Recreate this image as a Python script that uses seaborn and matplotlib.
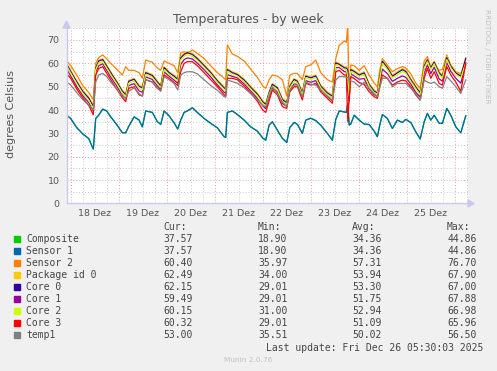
import matplotlib
matplotlib.use("Agg")
import matplotlib.pyplot as plt
import seaborn as sns
import pandas as pd
import numpy as np

# ---------------- data (hours since 18 Dez 00:00) ----------------
hours = [-2, 0, 3, 6, 9, 11.3, 12.5, 14, 16, 18,
         20, 23, 25.8, 27.5, 29, 31.7, 34.2, 35.8, 37.5, 40.8,
         43.3, 45, 46.7, 49.2, 51.7, 53.5, 55, 56.7, 58.3, 60.8,
         63.3, 66.7, 70, 73.3, 76.7, 77.5, 78.3, 80.8, 83.3, 86.7,
         90, 93.3, 96, 97.5, 99.2, 100.8, 103.3, 105.8, 108, 109.5,
         111.7, 113.3, 115.8, 117.5, 120, 122.5, 125, 128.3, 130.8, 132.5,
         134.2, 136.7, 137.8, 138.5, 139.2, 140, 141.7, 144.2, 146.7, 149.2,
         151.7, 153.3, 154.5, 155.8, 158.3, 160.8, 163.3, 165.8, 167.5, 170,
         172.5, 174.7, 176.7, 178.3, 180, 181.7, 184.2, 185.8, 188, 190,
         192.5, 195, 197.5]

composite = [37.8, 36.4, 32.5, 29.8, 27.8, 23.3, 36.4, 37.8, 40.4, 39.6,
             37.1, 33.8, 30.3, 30.3, 33.0, 37.1, 35.7, 32.8, 39.6, 39.0,
             35.0, 33.9, 39.6, 37.5, 34.5, 31.9, 35.7, 39.0, 39.6, 41.0,
             39.0, 36.4, 34.3, 32.4, 28.6, 28.3, 39.0, 39.6, 38.1, 35.7,
             32.8, 31.0, 28.0, 27.1, 33.6, 35.0, 31.4, 27.9, 26.1, 32.5,
             34.7, 33.9, 30.0, 35.7, 36.5, 35.5, 33.5, 30.0, 27.1, 36.0,
             39.6, 39.2, 39.0, 42.9, 33.6, 34.0, 37.8, 35.7, 34.0, 33.8,
             31.0, 28.6, 33.6, 38.1, 36.4, 32.1, 35.7, 34.7, 36.0, 34.7,
             30.7, 27.6, 35.0, 38.6, 35.7, 37.8, 34.3, 34.3, 40.7, 37.8,
             32.8, 30.3, 37.6]
sensor1 = list(composite)

sensor2 = [61.0, 59.0, 55.0, 50.5, 47.5, 44.5, 60.0, 62.5, 63.6, 62.0,
           60.0, 57.5, 55.0, 58.6, 57.0, 57.0, 56.0, 53.6, 61.4, 60.5,
           58.0, 57.0, 61.0, 60.0, 59.0, 56.0, 64.5, 65.0, 64.3, 65.7,
           64.3, 62.0, 59.0, 56.0, 53.6, 53.0, 67.9, 64.0, 63.0, 61.0,
           57.5, 54.0, 50.3, 49.3, 53.0, 55.0, 54.5, 53.0, 46.0, 55.0,
           55.7, 55.7, 53.0, 58.6, 59.3, 61.4, 56.0, 53.0, 52.0, 62.0,
           67.6, 69.6, 69.0, 76.7, 43.0, 59.3, 59.0, 57.0, 59.0, 55.0,
           51.5, 50.0, 57.0, 62.0, 59.3, 56.4, 57.8, 58.6, 58.0, 55.5,
           51.5, 49.3, 61.0, 62.9, 58.6, 59.3, 57.0, 57.5, 63.6, 59.3,
           56.4, 55.7, 60.4]

package0 = [60.0, 57.0, 52.5, 48.5, 45.5, 42.0, 58.6, 61.4, 62.0, 59.3,
            56.4, 52.5, 48.5, 47.0, 52.8, 53.6, 50.7, 50.0, 56.4, 55.3,
            52.5, 50.7, 58.6, 56.4, 55.0, 53.6, 62.9, 64.3, 65.0, 64.3,
            62.5, 59.5, 56.5, 53.0, 50.0, 49.5, 57.8, 56.4, 55.7, 53.3,
            50.2, 47.3, 44.0, 42.9, 48.0, 51.4, 50.0, 45.0, 43.6, 50.7,
            53.6, 52.8, 47.8, 55.0, 54.3, 55.0, 50.7, 47.8, 46.4, 60.7,
            60.0, 58.6, 58.5, 58.0, 50.0, 57.8, 57.0, 55.5, 56.4, 51.4,
            48.6, 47.8, 55.0, 61.4, 58.6, 55.0, 56.4, 57.8, 57.0, 53.5,
            50.3, 47.8, 59.3, 62.0, 58.6, 61.0, 56.4, 55.0, 62.9, 59.3,
            56.4, 55.0, 62.5]

core0 = [59.6, 56.5, 52.1, 48.0, 45.1, 41.5, 58.0, 61.0, 61.6, 58.8,
         56.0, 52.0, 48.1, 46.5, 52.3, 53.2, 50.2, 49.5, 56.0, 54.8,
         52.0, 50.3, 58.2, 56.0, 54.5, 53.1, 62.3, 63.8, 64.6, 63.8,
         62.0, 59.0, 56.0, 52.5, 49.5, 49.0, 57.3, 56.0, 55.2, 52.8,
         49.7, 46.8, 43.5, 42.4, 47.5, 51.0, 49.5, 44.5, 43.1, 50.2,
         53.1, 52.3, 47.3, 54.5, 53.8, 54.6, 50.2, 47.3, 45.9, 60.2,
         59.6, 58.1, 58.0, 57.0, 47.0, 57.3, 56.5, 55.0, 55.9, 50.9,
         48.1, 47.3, 54.5, 60.9, 58.1, 54.5, 55.9, 57.3, 56.5, 53.0,
         49.8, 47.3, 58.8, 61.5, 58.1, 60.5, 55.9, 54.5, 62.4, 58.8,
         55.9, 54.5, 62.2]

core1 = [57.5, 54.6, 50.1, 46.2, 43.2, 39.5, 56.3, 59.0, 59.8, 57.0,
         54.2, 50.3, 46.4, 44.8, 50.5, 51.3, 48.2, 47.6, 54.2, 53.1,
         50.4, 48.9, 56.3, 54.5, 52.8, 51.5, 59.5, 61.6, 62.3, 61.9,
         60.1, 57.2, 54.2, 50.8, 47.6, 47.2, 55.2, 54.4, 53.8, 51.2,
         48.2, 45.0, 41.8, 40.6, 45.5, 49.4, 47.8, 42.8, 41.6, 48.8,
         51.2, 51.0, 45.5, 52.6, 51.9, 52.6, 48.7, 45.8, 44.0, 58.2,
         58.2, 56.5, 56.3, 48.0, 44.0, 55.6, 54.6, 53.2, 53.5, 49.0,
         46.6, 45.8, 51.5, 57.5, 55.6, 52.3, 53.6, 54.6, 54.0, 51.2,
         47.6, 45.6, 55.8, 59.3, 55.6, 58.3, 53.3, 52.4, 60.3, 56.6,
         53.6, 51.5, 59.5]

core2 = [58.8, 55.8, 51.3, 47.2, 44.2, 40.6, 57.3, 60.2, 60.8, 58.0,
         55.2, 51.3, 47.3, 45.8, 51.5, 52.4, 49.4, 48.8, 55.2, 54.0,
         51.3, 49.5, 57.4, 55.2, 53.8, 52.4, 61.5, 63.0, 63.7, 63.0,
         61.2, 58.3, 55.3, 51.8, 48.8, 48.2, 56.6, 55.2, 54.5, 52.1,
         49.0, 46.1, 42.8, 41.7, 46.8, 50.2, 48.8, 43.8, 42.4, 49.5,
         52.4, 51.6, 46.6, 53.8, 53.1, 53.8, 49.5, 46.6, 45.2, 59.4,
         58.8, 57.4, 57.3, 54.0, 46.0, 56.6, 55.8, 54.3, 55.1, 50.2,
         47.4, 46.6, 53.5, 60.0, 57.3, 53.8, 55.1, 56.5, 55.8, 52.3,
         49.1, 46.6, 58.0, 60.8, 57.3, 59.8, 55.1, 53.8, 61.6, 58.1,
         55.1, 53.8, 60.2]

core3 = [55.5, 53.6, 49.0, 45.2, 42.0, 38.0, 55.0, 57.8, 58.6, 55.7,
         53.0, 49.0, 45.3, 43.6, 49.3, 50.0, 46.5, 46.0, 53.0, 52.0,
         49.3, 48.5, 55.0, 53.6, 51.8, 50.5, 56.4, 60.0, 60.7, 60.7,
         59.0, 56.0, 53.0, 50.0, 46.5, 46.0, 53.6, 53.6, 53.0, 50.3,
         47.3, 43.8, 40.0, 39.0, 44.0, 48.6, 46.5, 41.5, 40.7, 47.8,
         50.0, 50.0, 44.3, 51.4, 50.7, 51.4, 47.8, 45.0, 42.9, 56.4,
         57.0, 55.0, 55.0, 35.0, 45.0, 54.3, 53.5, 51.8, 51.0, 47.8,
         45.7, 45.0, 50.0, 55.0, 53.6, 50.7, 52.0, 52.8, 52.5, 50.0,
         46.5, 44.3, 53.6, 57.8, 53.6, 56.4, 51.4, 50.7, 58.6, 55.0,
         52.0, 48.0, 60.3]

temp1 = [52.0, 50.7, 47.5, 44.5, 42.0, 40.0, 52.0, 55.0, 55.7, 54.3,
         52.0, 49.0, 46.0, 45.0, 48.0, 49.5, 47.0, 46.0, 53.0, 52.0,
         49.5, 48.0, 54.3, 53.0, 51.4, 48.6, 55.0, 56.0, 56.4, 56.4,
         55.5, 53.0, 50.5, 48.5, 45.7, 45.5, 52.8, 52.2, 51.5, 49.5,
         47.0, 44.5, 42.0, 41.4, 46.0, 50.0, 47.0, 43.5, 41.4, 48.6,
         50.7, 50.7, 45.7, 52.0, 51.0, 50.7, 48.6, 46.0, 44.3, 52.8,
         54.3, 54.3, 54.0, 54.0, 53.0, 52.5, 52.0, 50.0, 52.0, 49.3,
         47.0, 45.7, 50.0, 53.6, 53.6, 50.0, 51.4, 51.4, 51.4, 49.3,
         47.0, 44.3, 52.8, 52.0, 51.4, 52.0, 50.0, 49.3, 54.3, 52.5,
         50.0, 47.1, 53.0]

series_names = ["Composite", "Sensor 1", "Sensor 2", "Package id 0",
                "Core 0", "Core 1", "Core 2", "Core 3", "temp1"]
series_values = [composite, sensor1, sensor2, package0,
                 core0, core1, core2, core3, temp1]
series_colors = ["#00cc00", "#0066b3", "#ff8000", "#ffcc00",
                 "#330099", "#990099", "#ccff00", "#ff0000", "#808080"]

cur_vals = ["37.57", "37.57", "60.40", "62.49", "62.15", "59.49", "60.15", "60.32", "53.00"]
min_vals = ["18.90", "18.90", "35.97", "34.00", "29.01", "29.01", "31.00", "29.01", "35.51"]
avg_vals = ["34.36", "34.36", "57.31", "53.94", "53.30", "51.75", "52.94", "51.09", "50.02"]
max_vals = ["44.86", "44.86", "76.70", "67.90", "67.00", "67.88", "66.98", "65.96", "56.50"]

day_labels = ["18 Dez", "19 Dez", "20 Dez", "21 Dez", "22 Dez", "23 Dez", "24 Dez", "25 Dez"]
y_ticks = [0, 10, 20, 30, 40, 50, 60, 70]

# ---------------- build frame ----------------
rows = []
for name, vals in zip(series_names, series_values):
    for t, v in zip(hours, vals):
        rows.append({"hours": t, "value": v, "series": name})
df = pd.DataFrame(rows)

# ---------------- figure ----------------
sns.set_style("white")
plt.rcParams["font.family"] = ["DejaVu Sans"]
W, H = 497, 371
fig = plt.figure(figsize=(W / 100, H / 100), dpi=100, facecolor="#f0f0f0")

def fx(px):
    return px / W

def fy(py):
    return 1 - py / H

ax_l, ax_r, ax_t, ax_b = 66.5, 468, 28.3, 203.5
ax = fig.add_axes([fx(ax_l), fy(ax_b), fx(ax_r - ax_l), (ax_b - ax_t) / H])
ax.set_facecolor("white")

xmin, xmax = -2.1, 198.6
ymin, ymax = 0, 75

# grid
for y in np.arange(5, 76, 10):
    ax.axhline(y, color="#c8c8c8", lw=0.7, ls=(0, (1, 2)), zorder=0)
for y in np.arange(10, 71, 10):
    ax.axhline(y, color="#f09c9c", lw=0.7, ls=(0, (1, 2)), zorder=0.5)
for x in np.arange(-6 + 12, 199, 6):
    pass
for x in np.arange(0, 199, 6):
    if x % 24 != 0:
        ax.axvline(x, color="#c8c8c8", lw=0.7, ls=(0, (1, 2)), zorder=0)
for x in np.arange(0, 199, 24):
    ax.axvline(x, color="#f09c9c", lw=0.7, ls=(0, (1, 2)), zorder=0.5)

sns.lineplot(data=df, x="hours", y="value", hue="series",
             hue_order=series_names, palette=series_colors,
             estimator=None, sort=False, legend=False, linewidth=0.9, ax=ax)

ax.set_xlim(xmin, xmax)
ax.set_ylim(ymin, ymax)
ax.set_xticks([12 + 24 * i for i in range(len(day_labels))])
ax.set_xticklabels(day_labels)
ax.set_yticks(y_ticks)
ax.set_yticklabels([str(v) for v in y_ticks])
ax.tick_params(axis="both", length=0, labelsize=6.8, colors="#555555", pad=5)
ax.tick_params(axis="x", pad=4)
ax.set_xlabel("")
ax.set_ylabel("")
for s in ["top", "right"]:
    ax.spines[s].set_visible(False)
for s in ["left", "bottom"]:
    ax.spines[s].set_color("#c8c8f0")
    ax.spines[s].set_linewidth(1.0)

# axis arrows
fig.patches.append(matplotlib.patches.FancyArrow(
    fx(ax_l), fy(ax_t), 0, (ax_t - 21) / H, width=0.0, head_width=fx(7),
    head_length=7 / H, color="#c8c8f0", transform=fig.transFigure, length_includes_head=True))
fig.patches.append(matplotlib.patches.FancyArrow(
    fx(ax_r), fy(ax_b), fx(6), 0, width=0.0, head_width=7 / H,
    head_length=fx(6), color="#c8c8f0", transform=fig.transFigure, length_includes_head=True))

# title and labels
fig.text(fx(248), fy(19), "Temperatures - by week", ha="center", va="center",
         fontsize=9, color="#555555")
fig.text(fx(11), fy(114), "degrees Celsius", rotation=90, ha="center", va="center",
         fontsize=8, color="#555555")
fig.text(fx(487), fy(56), "RRDTOOL / TOBI OETIKER", rotation=270, ha="center", va="center",
         fontsize=5.3, color="#c0c0c0")

# legend table
mono = "DejaVu Sans Mono"
tc = "#444444"
fs = 7
ys = [239.3 + 12 * i for i in range(len(series_names))]
for lbl, xp in zip(["Cur:", "Min:", "Avg:", "Max:"], [163, 258, 352, 447]):
    fig.text(fx(xp), fy(227.3), lbl, family=mono, fontsize=fs, color=tc, va="center")
for i, name in enumerate(series_names):
    y = ys[i]
    fig.patches.append(matplotlib.patches.Rectangle(
        (fx(14), fy(y + 3)), fx(6), 6 / H, color=series_colors[i], transform=fig.transFigure))
    fig.text(fx(26.5), fy(y), name, family=mono, fontsize=fs, color=tc, va="center")
    fig.text(fx(163), fy(y), cur_vals[i], family=mono, fontsize=fs, color=tc, va="center")
    fig.text(fx(258), fy(y), min_vals[i], family=mono, fontsize=fs, color=tc, va="center")
    fig.text(fx(352), fy(y), avg_vals[i], family=mono, fontsize=fs, color=tc, va="center")
    fig.text(fx(447), fy(y), max_vals[i], family=mono, fontsize=fs, color=tc, va="center")
fig.text(fx(483), fy(347.7), "Last update: Fri Dec 26 05:30:03 2025", family=mono,
         fontsize=fs, color=tc, va="center", ha="right")
fig.text(fx(248), fy(360), "Munin 2.0.76", fontsize=5.3, color="#c0c0c0",
         ha="center", va="center")

fig.savefig("out.png", dpi=100, facecolor=fig.get_facecolor())
